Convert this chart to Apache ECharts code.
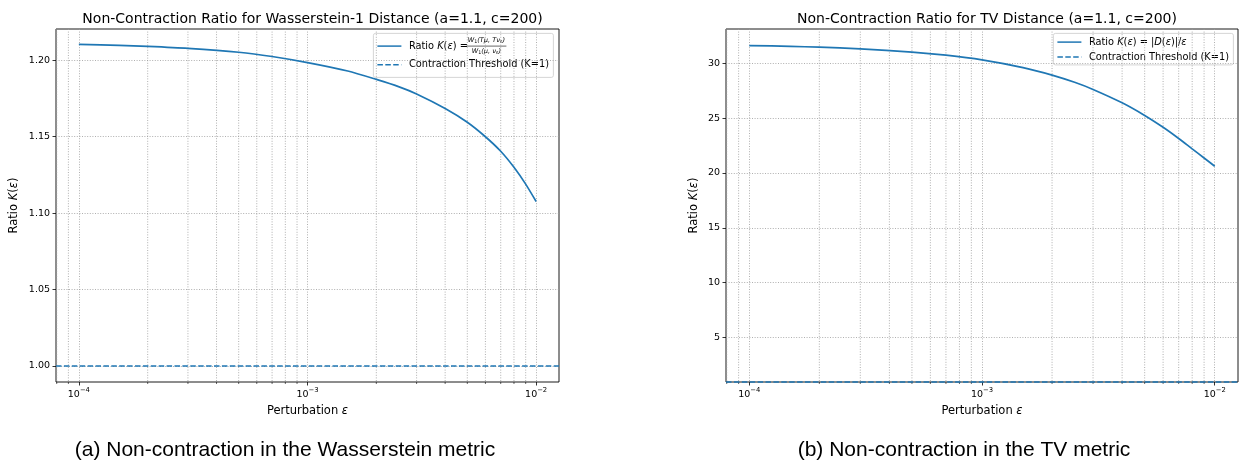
<!DOCTYPE html>
<html>
<head>
<meta charset="utf-8">
<script src="https://cdn.jsdelivr.net/npm/echarts@6/dist/echarts.min.js"></script>
<style>
html,body{margin:0;padding:0;background:#fff;}
#chart{width:1241px;height:463px;}
</style>
</head>
<body>
<div id="chart"></div>
<script>
// ---- data ----
const eps = [1e-4, 1.5e-4, 2e-4, 3e-4, 5e-4, 7e-4, 1e-3, 1.5e-3, 2e-3, 2.5e-3, 3e-3, 4e-3, 5e-3, 6e-3, 7e-3, 8e-3, 9e-3, 1e-2];
const ratioW = [1.2104, 1.2098, 1.2091, 1.2078, 1.2053, 1.2025, 1.1985, 1.1930, 1.1875, 1.1828, 1.1780, 1.1685, 1.1595, 1.1500, 1.1405, 1.1300, 1.1190, 1.1076];
const ratioTV = [31.62, 31.55, 31.47, 31.32, 31.03, 30.74, 30.31, 29.61, 28.93, 28.27, 27.62, 26.40, 25.25, 24.17, 23.15, 22.20, 21.37, 20.62];
const threshold = 1;
const xMajorTicks = [1e-4, 1e-3, 1e-2];
const xMinorTicks = [8e-5, 9e-5, 2e-4, 3e-4, 4e-4, 5e-4, 6e-4, 7e-4, 8e-4, 9e-4, 2e-3, 3e-3, 4e-3, 5e-3, 6e-3, 7e-3, 8e-3, 9e-3];
const wYTicks = [1.00, 1.05, 1.10, 1.15, 1.20];
const tvYTicks = [5, 10, 15, 20, 25, 30];
const titles = ['Non-Contraction Ratio for Wasserstein-1 Distance (a=1.1, c=200)', 'Non-Contraction Ratio for TV Distance (a=1.1, c=200)'];
const captions = ['(a) Non-contraction in the Wasserstein metric', '(b) Non-contraction in the TV metric'];

// ---- styling ----
const BLUE = '#1f77b4';
const FONT = 'DejaVu Sans';
const GRID_COLOR = '#9a9a9a';
const gridStyle = {color: GRID_COLOR, width: 0.8, type: [1, 1.6]};
const dashPattern = [5.5, 2.4];

const grids = [
  {left: 56, top: 29, width: 503, height: 353},
  {left: 726, top: 29, width: 512, height: 353}
];

function xLabel(v) {
  const e = Math.round(Math.log10(v));
  return '{b|10}{s|\u2212' + Math.abs(e) + '}';
}

function makeXAxis(i) {
  return {
    type: 'log', logBase: 10, gridIndex: i,
    min: Math.pow(10, -4.1), max: Math.pow(10, -1.9),
    name: 'Perturbation {i|ε}', nameLocation: 'middle', nameGap: 23,
    nameTextStyle: {fontFamily: FONT, fontSize: 11.5, color: '#000', rich: {i: {fontFamily: FONT, fontStyle: 'italic', fontSize: 11.5}}},
    axisLine: {show: false},
    axisTick: {show: true, length: 3.5, lineStyle: {color: '#000', width: 0.8}, customValues: xMajorTicks},
    axisLabel: {
      customValues: xMajorTicks, margin: 5, color: '#000', formatter: xLabel,
      rich: {
        b: {fontFamily: FONT, fontSize: 9.5, color: '#000', padding: [3, 0, 0, 0], verticalAlign: 'bottom'},
        s: {fontFamily: FONT, fontSize: 6.8, color: '#000', verticalAlign: 'top'}
      }
    },
    splitLine: {show: true, lineStyle: gridStyle},
    minorTick: {show: false}
  };
}

function makeYAxis(i, min, max, ticks, fmt, gap) {
  return {
    type: 'value', gridIndex: i, min: min, max: max,
    name: 'Ratio {i|K}({i|ε})', nameLocation: 'middle', nameGap: gap, nameRotate: 90,
    nameTextStyle: {fontFamily: FONT, fontSize: 11.5, color: '#000', rich: {i: {fontFamily: FONT, fontStyle: 'italic', fontSize: 11.5}}},
    axisLine: {show: false},
    axisTick: {show: true, length: 3.5, lineStyle: {color: '#000', width: 0.8}, customValues: ticks},
    axisLabel: {customValues: ticks, margin: 6, fontFamily: FONT, fontSize: 9.5, color: '#000', formatter: fmt},
    splitLine: {show: true, lineStyle: gridStyle}
  };
}

function minorSeries(i) {
  return {
    type: 'custom', xAxisIndex: i, yAxisIndex: i, silent: true, z: 1, clip: false,
    data: xMinorTicks.map(v => [v, 1]),
    encode: {x: 0, y: 1},
    renderItem: function (params, api) {
      const cs = params.coordSys;
      const x = api.coord([api.value(0), api.value(1)])[0];
      const top = cs.y, bot = cs.y + cs.height;
      return {
        type: 'group',
        children: [
          {type: 'line', shape: {x1: x, y1: top, x2: x, y2: bot}, style: {stroke: GRID_COLOR, lineWidth: 0.8, lineDash: [1, 1.6]}},
          {type: 'line', shape: {x1: x, y1: bot, x2: x, y2: bot + 2}, style: {stroke: '#000', lineWidth: 0.6}}
        ]
      };
    }
  };
}

function ratioSeries(i, vals, name) {
  return {
    type: 'line', name: name, xAxisIndex: i, yAxisIndex: i,
    data: eps.map((e, k) => [e, vals[k]]),
    showSymbol: false, smooth: 0.25, z: 5,
    lineStyle: {color: BLUE, width: 1.7}, itemStyle: {color: BLUE}
  };
}

function thresholdSeries(i) {
  return {
    type: 'line', name: 'Contraction Threshold (K=1)', xAxisIndex: i, yAxisIndex: i,
    data: [], z: 6,
    markLine: {
      silent: true, symbol: ['none', 'none'], label: {show: false},
      lineStyle: {color: BLUE, width: 1.5, type: dashPattern},
      data: [{yAxis: threshold}]
    }
  };
}

function legendGroup(x, y, w, h, rows) {
  const children = [{type: 'rect', shape: {x: 0, y: 0, width: w, height: h, r: 2}, style: {fill: 'rgba(255,255,255,0.85)', stroke: '#cccccc', lineWidth: 0.8}}];
  rows.forEach(r => {
    children.push({type: 'line', shape: {x1: 4, y1: r.y, x2: 28, y2: r.y}, style: {stroke: BLUE, lineWidth: 1.5, lineDash: r.dash ? dashPattern : null}});
    children.push({type: 'text', x: 35.5, y: r.y, style: {text: r.text, rich: r.rich, fontFamily: FONT, fontSize: 9.8, fill: '#000', verticalAlign: 'middle', align: 'left'}});
    (r.extra || []).forEach(c => children.push(c));
  });
  return {type: 'group', left: x, top: y, z: 100, children: children};
}

const italicRich = {i: {fontFamily: FONT, fontStyle: 'italic', fontSize: 9.8, fill: '#000'}};
const fracRich = {
  i: {fontFamily: FONT, fontStyle: 'italic', fontSize: 6.6, fill: '#000'},
  u: {fontFamily: FONT, fontSize: 4.8, fill: '#000', verticalAlign: 'bottom'}
};

const leftLegend = legendGroup(373, 33, 180, 44, [
  {y: 12.7, text: 'Ratio {i|K}({i|ε}) = ', rich: italicRich, extra: [
    {type: 'text', x: 113, y: 7.3, style: {text: '{i|W}{u|1}{i|(Tμ, Tν}{u|ε}{i|)}', rich: fracRich, align: 'center', verticalAlign: 'middle'}},
    {type: 'line', shape: {x1: 93, y1: 12.7, x2: 133, y2: 12.7}, style: {stroke: '#000', lineWidth: 0.6}},
    {type: 'text', x: 113, y: 18.2, style: {text: '{i|W}{u|1}{i|(μ, ν}{u|ε}{i|)}', rich: fracRich, align: 'center', verticalAlign: 'middle'}}
  ]},
  {y: 31.3, dash: true, text: 'Contraction Threshold (K=1)'}
]);
const rightLegend = legendGroup(1053, 33, 180, 31.5, [
  {y: 8.7, text: 'Ratio {i|K}({i|ε}) = |{i|D}({i|ε})|/{i|ε}', rich: italicRich},
  {y: 23.7, dash: true, text: 'Contraction Threshold (K=1)'}
]);

const option = {
  backgroundColor: '#fff',
  animation: false,
  title: [
    {text: titles[0], left: 307.5, top: 7, textAlign: 'center', textStyle: {fontFamily: FONT, fontSize: 14, fontWeight: 'normal', color: '#000'}},
    {text: titles[1], left: 982, top: 7, textAlign: 'center', textStyle: {fontFamily: FONT, fontSize: 14, fontWeight: 'normal', color: '#000'}}
  ],
  grid: grids.map(g => Object.assign({show: true, borderColor: '#000', borderWidth: 0.9, backgroundColor: 'transparent'}, g)),
  xAxis: [makeXAxis(0), makeXAxis(1)],
  yAxis: [
    makeYAxis(0, 0.9895, 1.2205, wYTicks, v => v.toFixed(2), 36),
    makeYAxis(1, 0.95, 33.13, tvYTicks, v => String(Math.round(v)), 26)
  ],
  series: [
    minorSeries(0), minorSeries(1),
    ratioSeries(0, ratioW, 'Ratio K(ε) = W1(Tμ,Tνε)/W1(μ,νε)'),
    thresholdSeries(0),
    ratioSeries(1, ratioTV, 'Ratio K(ε) = |D(ε)|/ε'),
    thresholdSeries(1)
  ],
  graphic: [
    leftLegend, rightLegend,
    {type: 'text', x: 285, y: 450, z: 100, style: {text: captions[0], fontFamily: 'Liberation Sans', fontSize: 21, fill: '#000', align: 'center', verticalAlign: 'middle'}},
    {type: 'text', x: 964, y: 450, z: 100, style: {text: captions[1], fontFamily: 'Liberation Sans', fontSize: 21, fill: '#000', align: 'center', verticalAlign: 'middle'}}
  ]
};

const chart = echarts.init(document.getElementById('chart'), null, {renderer: 'canvas'});
chart.setOption(option);
</script>
</body>
</html>
